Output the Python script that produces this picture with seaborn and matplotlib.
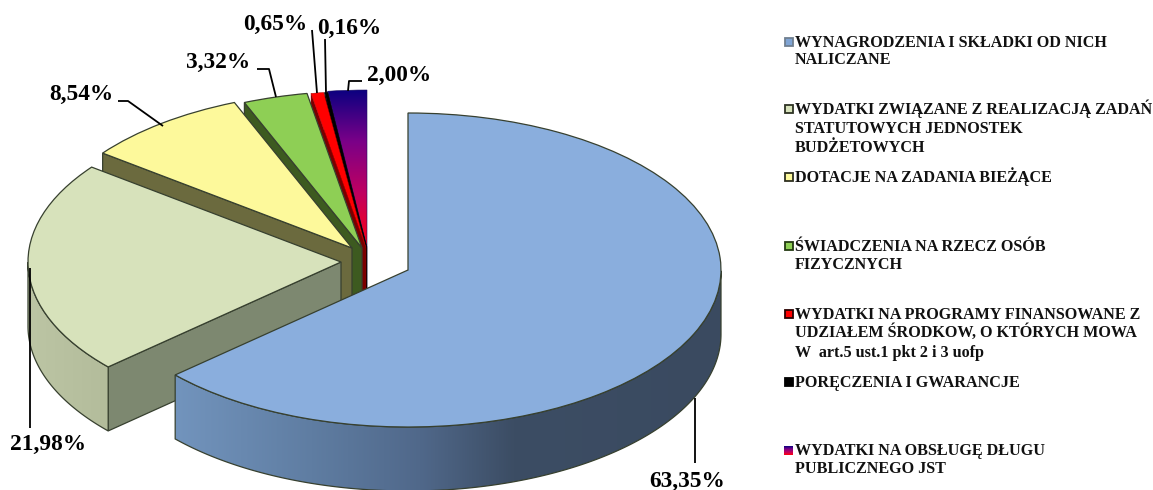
import numpy as np
import matplotlib
matplotlib.use("Agg")
import matplotlib.pyplot as plt
from matplotlib.colors import LinearSegmentedColormap
from matplotlib.patches import Polygon, Rectangle
import seaborn as sns

sns.set_theme(style="white")
plt.rcParams["font.family"] = ["Liberation Serif", "DejaVu Serif"]

# ---- data -------------------------------------------------------------
shares = [63.35, 21.98, 8.54, 3.32, 0.65, 0.16, 2.00]
share_labels = ["63,35%", "21,98%", "8,54%", "3,32%", "0,65%", "0,16%", "2,00%"]
legend_lines = [
    ["WYNAGRODZENIA I SKŁADKI OD NICH", "NALICZANE"],
    ["WYDATKI ZWIĄZANE Z REALIZACJĄ ZADAŃ", "STATUTOWYCH JEDNOSTEK", "BUDŻETOWYCH"],
    ["DOTACJE NA ZADANIA BIEŻĄCE"],
    ["ŚWIADCZENIA NA RZECZ OSÓB", "FIZYCZNYCH"],
    ["WYDATKI NA PROGRAMY FINANSOWANE Z", "UDZIAŁEM ŚRODKOW, O KTÓRYCH MOWA", "W  art.5 ust.1 pkt 2 i 3 uofp"],
    ["PORĘCZENIA I GWARANCJE"],
    ["WYDATKI NA OBSŁUGĘ DŁUGU", "PUBLICZNEGO JST"],
]

# ---- styles / layout (pixels of the 1153x490 canvas) --------------------
W, H = 1153, 490
RX, RY, DEPTH = 313.0, 157.0, 64.0
top_colors = sns.color_palette(["#8aaedd", "#d7e2bb", "#fdf99b", "#8ecf55", "#ff0000", "#000000", "#800080"])
face_colors = ["#56708f", "#7d8870", "#6b6a3e", "#3d5a20", "#7a0000", "#000000", "#640020"]
centers_px = [(408, 270), (341, 262), (352, 248), (362, 248), (366, 248), (367, 248), (367, 247)]
edge_colors = ["#37402f", "#37402f", "#37402f", "#37402f", "#a00000", "#000000", "#1a1060"]
edge_widths = [0.9, 0.9, 0.9, 0.9, 0.3, 0.3, 0.4]

blue_wall = LinearSegmentedColormap.from_list(
    "bw", [(0, "#7294bd"), (0.25, "#5f7da2"), (0.45, "#50688a"), (0.62, "#3c4d64"), (1, "#3a4a60")])
pale_wall = LinearSegmentedColormap.from_list("pw", ["#bcc5a4", "#b3bc9b"])
debt_top = LinearSegmentedColormap.from_list(
    "dt", [(0, "#0a0080"), (0.33, "#7a0088"), (0.66, "#c00060"), (1, "#ff0010")])
wall_maps = {0: blue_wall, 1: pale_wall}

fig = plt.figure(figsize=(W / 100, H / 100), dpi=100, facecolor="white")
ax = fig.add_axes([0, 0, 1, 1])


def U(x, y):
    return x / RX, (H - y) / RY


wedges, _ = ax.pie(shares, startangle=90, counterclock=False, radius=1, colors=top_colors)

dz = DEPTH / RY
order = [6, 5, 4, 3, 2, 1, 0]
for rank, i in enumerate(order):
    w = wedges[i]
    cx, cy = U(*centers_px[i])
    w.set_center((cx, cy))
    w.set_edgecolor(edge_colors[i])
    w.set_linewidth(edge_widths[i])
    z = 2 + rank
    w.set_zorder(z + 0.5)
    t1, t2 = w.theta1, w.theta2
    mid = np.deg2rad((t1 + t2) / 2)
    m = np.array([np.cos(mid), np.sin(mid)])
    # flat cut faces that turn towards the viewer
    for t in (t1, t2):
        a = np.deg2rad(t)
        u = np.array([np.cos(a), np.sin(a)])
        n = np.array([-u[1], u[0]])
        if n @ m > 0:
            n = -n
        if n[1] < -1e-6:
            ax.add_patch(Polygon([(cx, cy), (cx + u[0], cy + u[1]),
                                  (cx + u[0], cy + u[1] - dz), (cx, cy - dz)],
                                 closed=True, facecolor=face_colors[i], edgecolor=edge_colors[i],
                                 linewidth=edge_widths[i], zorder=z))
    # outer rim wall
    t = np.deg2rad(np.linspace(t1, t2, 400))
    t = t[np.sin(t) <= 0]
    if t.size > 2:
        xs, ys = cx + np.cos(t), cy + np.sin(t)
        pts = np.r_[np.c_[xs, ys], np.c_[xs, ys - dz][::-1]]
        poly = Polygon(pts, closed=True, facecolor="none", edgecolor=edge_colors[i],
                       linewidth=0.9, zorder=z + 0.2)
        ax.add_patch(poly)
        im = ax.imshow(np.linspace(0, 1, 256)[None, :], cmap=wall_maps[i], aspect="auto",
                       extent=(xs.min(), xs.max(), ys.min() - dz, ys.max()), zorder=z + 0.1)
        im.set_clip_path(poly)

# gradient on the debt-service slice
dw = wedges[6]
cx, cy = dw.center
im = ax.imshow(np.linspace(0, 1, 256)[:, None], cmap=debt_top, aspect="auto", origin="upper",
               extent=(cx - 0.2, cx + 0.05, cy, cy + 1.0), zorder=dw.get_zorder() - 0.01)
im.set_clip_path(dw)
dw.set_facecolor("none")

ax.set_aspect("auto")
ax.set_xlim(0, W / RX)
ax.set_ylim(0, H / RY)
ax.axis("off")

# ---- overlay in pixel coordinates: leaders, labels, legend --------------
ov = fig.add_axes([0, 0, 1, 1], facecolor="none")
leaders = [
    [(695, 398), (695, 463)],
    [(30, 268), (30, 428)],
    [(163, 126), (128, 101), (118, 101)],
    [(276, 97), (269, 69), (257, 69)],
    [(317, 93), (312, 30)],
    [(326, 93), (325, 39)],
    [(348, 91), (349, 81), (362, 81)],
]
label_pos = [(687, 487), (48, 450), (81, 100), (218, 68), (275, 30), (349, 34), (399, 81)]
for path, txt, (lx, ly) in zip(leaders, share_labels, label_pos):
    p = np.array(path)
    ov.plot(p[:, 0], p[:, 1], color="black", lw=1.3, solid_capstyle="butt", zorder=20)
    ov.text(lx, ly, txt, ha="center", va="baseline", fontsize=16.8, fontweight="bold",
            color="black", zorder=21)

legend_first_y = [42, 109, 177, 246, 314, 382, 450]
line_steps = [[0, 17], [0, 19, 38], [0], [0, 18], [0, 18, 38], [0], [0, 18]]
swatch_fill = ["#7fa4d4", "#d7e2bb", "#fdf99b", "#8ecf55", "#ff0000", "#000000", None]
swatch_edge = ["#6f7f90", "#2e3324", "#2e3020", "#243a12", "#2a0000", "#000000", "none"]
for lines, y0, steps, fc, ec in zip(legend_lines, legend_first_y, line_steps, swatch_fill, swatch_edge):
    if fc is None:
        ov.imshow(np.linspace(0, 1, 64)[:, None], cmap=debt_top, aspect="auto", origin="upper",
                  extent=(784, 793, y0 + 4.5, y0 - 4.5), zorder=5)
    else:
        ov.add_patch(Rectangle((784.5, y0 - 4), 8, 8, facecolor=fc, edgecolor=ec, linewidth=1.3, zorder=5))
    for line, s in zip(lines, steps):
        ov.text(795, y0 + s + 5, line, ha="left", va="baseline", fontsize=11.6,
                fontweight="bold", color="#111111")

ov.set_xlim(0, W)
ov.set_ylim(H, 0)
ov.axis("off")

fig.savefig("out.png", dpi=100, facecolor="white")
